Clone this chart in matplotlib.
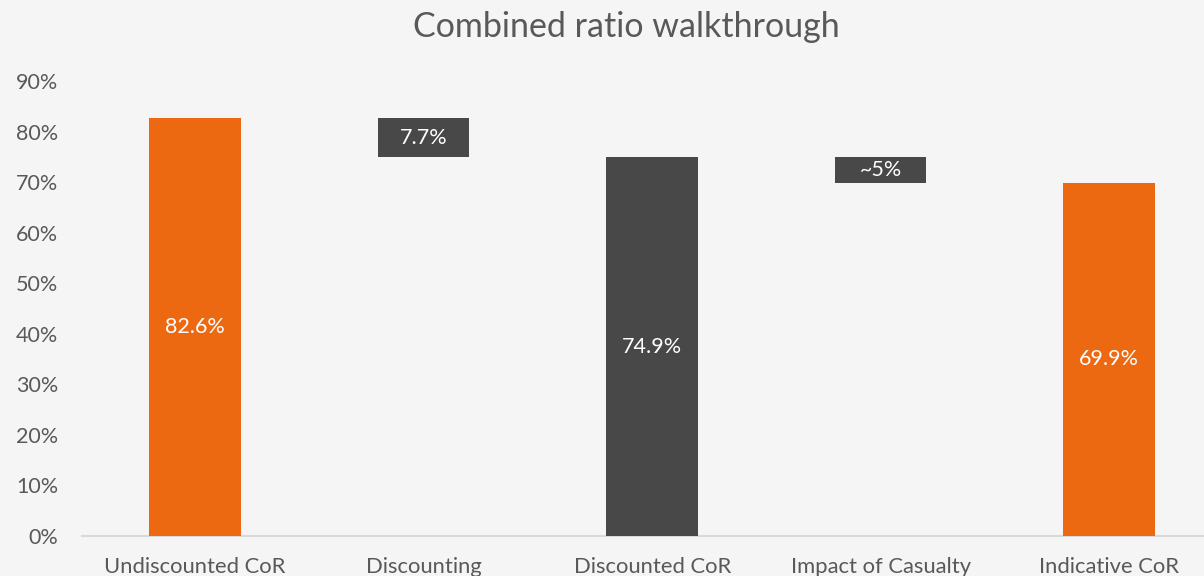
import matplotlib
matplotlib.use("Agg")
import matplotlib.pyplot as plt

categories = ["Undiscounted CoR", "Discounting", "Discounted CoR", "Impact of Casualty", "Indicative CoR"]
bottoms = [0.0, 74.9, 0.0, 69.9, 0.0]
heights = [82.6, 7.7, 74.9, 5.0, 69.9]
labels = ["82.6%", "7.7%", "74.9%", "~5%", "69.9%"]
colors = ["#EC6912", "#484848", "#484848", "#484848", "#EC6912"]
yticks = [0, 10, 20, 30, 40, 50, 60, 70, 80, 90]

plt.rcParams['font.family'] = ['Lato', 'DejaVu Sans']
bg = "#F5F5F5"
fig = plt.figure(figsize=(12.04, 5.76), dpi=100, facecolor=bg)
ax = fig.add_axes([82/1204, 40/576, 1122/1204, 455/576], facecolor=bg)

x = list(range(len(categories)))
ax.bar(x, heights, bottom=bottoms, width=0.40, color=colors, zorder=3)
for xi, b, h, lab in zip(x, bottoms, heights, labels):
    ax.text(xi, b + h / 2, lab, ha="center", va="center", color="white", fontsize=15.5, zorder=4)

ax.set_xlim(-0.495, 4.415)
ax.set_ylim(0, 90)
ax.set_yticks(yticks)
ax.set_yticklabels([f"{t}%" for t in yticks])
ax.set_xticks(x)
ax.set_xticklabels(categories)
ax.tick_params(axis="both", length=0, colors="#595959", labelsize=15.5)
ax.tick_params(axis="x", labelsize=15.8, pad=15)
ax.tick_params(axis="y", pad=17)
for s in ["top", "right", "left"]:
    ax.spines[s].set_visible(False)
ax.spines["bottom"].set_color("#D9D9D9")
ax.spines["bottom"].set_linewidth(1.5)

fig.text(626/1204, 1 - 27/576, "Combined ratio walkthrough", ha="center", va="center", fontsize=24.5, color="#595959")

fig.savefig("out.png", dpi=100, facecolor=bg)
